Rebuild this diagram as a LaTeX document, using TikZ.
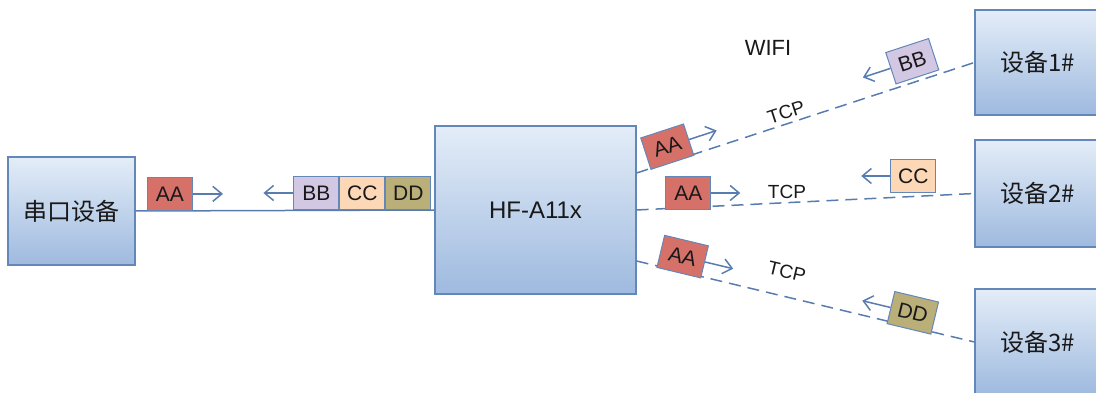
\documentclass[tikz,border=0pt]{standalone}
\usepackage{fontspec}
\setmainfont{Liberation Sans}
\newfontfamily\cjk{Noto Sans CJK SC}
\usetikzlibrary{arrows.meta,calc,positioning}

\definecolor{boxtop}{RGB}{228,237,248}
\definecolor{boxbot}{RGB}{158,186,223}
\definecolor{edge}{RGB}{100,135,185}
\definecolor{wire}{RGB}{88,124,176}
\definecolor{aa}{RGB}{214,113,106}
\definecolor{bb}{RGB}{210,200,227}
\definecolor{cc}{RGB}{252,216,182}
\definecolor{dd}{RGB}{186,174,121}

\tikzset{
 unit/.style={draw=edge, line width=1.2pt, top color=boxtop, bottom color=boxbot, text=black!90},
 dev/.style={unit, minimum width=125pt, font=\cjk\fontsize{24}{24}\selectfont},
 pkt/.style={draw=edge, solid, line width=1pt, minimum width=45pt, minimum height=33pt, inner sep=0pt, text=black!90, font=\fontsize{21}{21}\selectfont},
 proto/.style={inner sep=0pt, text=black!90, font=\fontsize{19}{19}\selectfont},
 link/.style={draw=wire, line width=1.5pt},
 wifi/.style={link, dash pattern=on 12pt off 7pt},
 go/.style={draw=wire, solid, line width=1.5pt, -{Straight Barb[length=9pt,width=15pt]}}
}

\begin{document}
\begin{tikzpicture}[x=1pt,y=-1pt]
 \useasboundingbox (0,0) rectangle (1096,393);

	% Appareils
 \node[unit, minimum width=127pt, minimum height=108pt, font=\cjk\fontsize{24}{24}\selectfont] (s) at (71.5,211) {串口设备};
 \node[unit, minimum width=201pt, minimum height=168pt, font=\fontsize{24}{24}\selectfont] (h) at (535.5,210) {HF-A11x};
 \node[dev, minimum height=105pt] (d1) at (1037.5,62.5) {设备1\#};
 \node[dev, minimum height=107pt] (d2) at (1037.5,193.5) {设备2\#};
 \node[dev, minimum height=106pt] (d3) at (1037.5,342) {设备3\#};
 \node[proto, font=\fontsize{22}{22}\selectfont] (w) at (768,48) {WIFI};

	% Liaison serie
 \draw[link] (s.east) -- (h.west) node[pkt, fill=aa, pos=0.115, above=0pt] (a0) {AA};
 \node[pkt, fill=dd, anchor=south east] (dd0) at ([xshift=-3pt]h.west) {DD};
 \node[pkt, fill=cc, left=0pt of dd0] (cc0) {CC};
 \node[pkt, fill=bb, left=0pt of cc0] (bb0) {BB};
 \draw[go] (a0.east) -- ($(a0.east)!-30pt!(a0.west)$);
 \draw[go] (bb0.west) -- ($(bb0.west)!-30pt!(bb0.east)$);

	% Liaisons TCP
 \draw[wifi] ([yshift=37pt]h.east) -- (d1.west)
  node[pkt, fill=aa, sloped, pos=0.105, above=-1.5pt] (a1) {AA}
  node[proto, sloped, pos=0.453, above=4pt] (t1) {TCP}
  node[pkt, fill=bb, sloped, pos=0.835, above=3.5pt] (b1) {BB};
 \draw[wifi] (h.east) -- (d2.west)
  node[pkt, fill=aa, pos=0.153, above=-2.5pt] (a2) {AA}
  node[proto, pos=0.445, above=3pt] (t2) {TCP}
  node[pkt, fill=cc, pos=0.819, above=3.5pt] (c2) {CC};
 \draw[wifi] ([yshift=-51pt]h.east) -- (d3.west)
  node[pkt, fill=aa, sloped, pos=0.126, above=-2pt] (a3) {AA}
  node[proto, sloped, pos=0.428, above=17pt] (t3) {TCP}
  node[pkt, fill=dd, sloped, pos=0.808, above=-3pt] (e3) {DD};

	% Sens des paquets
 \draw[go] (a1.east) -- ($(a1.east)!-29pt!(a1.west)$);
 \draw[go] (b1.west) -- ($(b1.west)!-29pt!(b1.east)$);
 \draw[go] (a2.east) -- ($(a2.east)!-29pt!(a2.west)$);
 \draw[go] (c2.west) -- ($(c2.west)!-29pt!(c2.east)$);
 \draw[go] (a3.east) -- ($(a3.east)!-29pt!(a3.west)$);
 \draw[go] (e3.west) -- ($(e3.west)!-29pt!(e3.east)$);

\end{tikzpicture}
\end{document}
